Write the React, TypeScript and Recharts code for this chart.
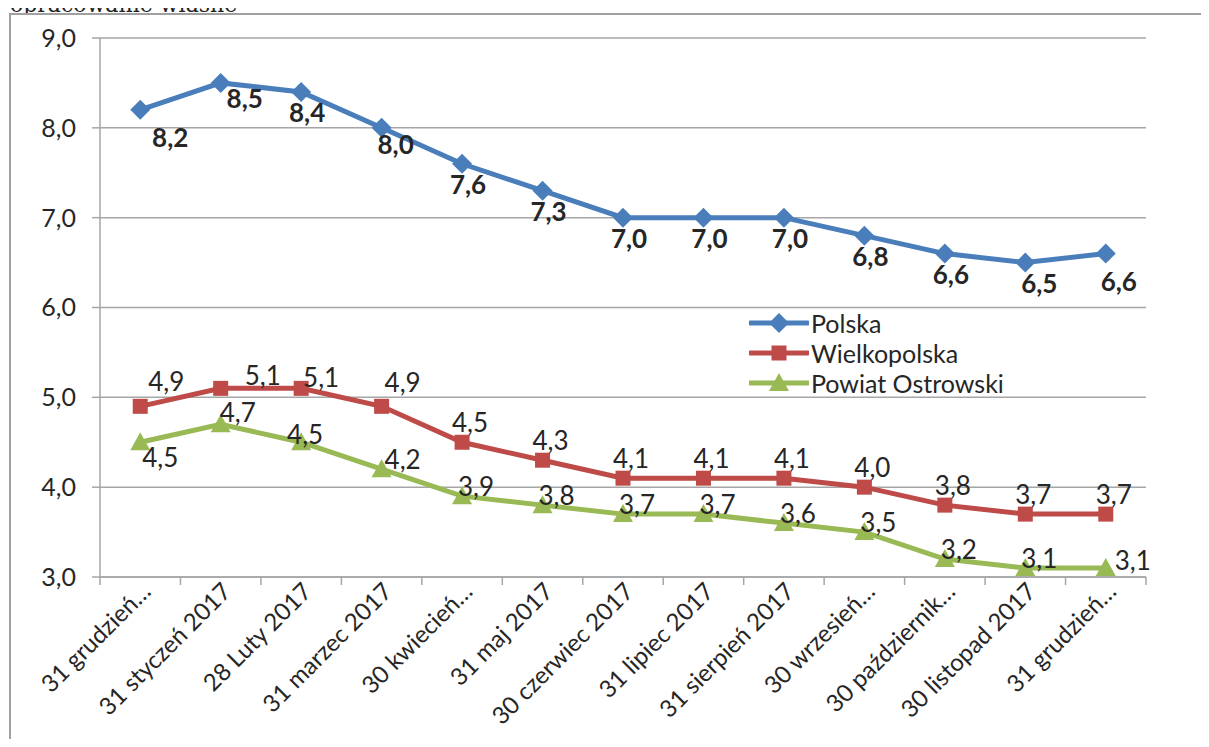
import { LineChart, Line, XAxis, YAxis, CartesianGrid, Legend, LabelList } from 'recharts';

const CATEGORIES = [
  '31 grudzień…',
  '31 styczeń 2017',
  '28 Luty 2017',
  '31 marzec 2017',
  '30 kwiecień…',
  '31 maj 2017',
  '30 czerwiec 2017',
  '31 lipiec 2017',
  '31 sierpień 2017',
  '30 wrzesień…',
  '30 październik…',
  '30 listopad 2017',
  '31 grudzień…',
];

const POLSKA = [8.2, 8.5, 8.4, 8.0, 7.6, 7.3, 7.0, 7.0, 7.0, 6.8, 6.6, 6.5, 6.6];
const WIELKOPOLSKA = [4.9, 5.1, 5.1, 4.9, 4.5, 4.3, 4.1, 4.1, 4.1, 4.0, 3.8, 3.7, 3.7];
const POWIAT = [4.5, 4.7, 4.5, 4.2, 3.9, 3.8, 3.7, 3.7, 3.6, 3.5, 3.2, 3.1, 3.1];

const Y_TICKS = [3, 4, 5, 6, 7, 8, 9];

const FONT = 'Lato, "Open Sans", sans-serif';
const GRID = '#A6A6A6';
const BLUE = '#4A7EBB';
const RED = '#BE4B48';
const GREEN = '#98B954';

const data = CATEGORIES.map((name, i) => ({
  name,
  i,
  polska: POLSKA[i],
  wlkp: WIELKOPOLSKA[i],
  powiat: POWIAT[i],
}));

const CENTER_TICKS = CATEGORIES.map((_, k) => k);

const fmt = (v: number) => v.toFixed(1).replace('.', ',');

type Marker = 'diamond' | 'square' | 'triangle';

function markerShape(kind: Marker, cx: number, cy: number, color: string, key?: string | number) {
  if (kind === 'diamond') {
    return (
      <polygon key={key} points={`${cx},${cy - 10} ${cx + 10},${cy} ${cx},${cy + 10} ${cx - 10},${cy}`} fill={color} />
    );
  }
  if (kind === 'square') {
    return <rect key={key} x={cx - 7.5} y={cy - 7.5} width={15} height={15} fill={color} />;
  }
  return <polygon key={key} points={`${cx},${cy - 10} ${cx + 10},${cy + 8} ${cx - 10},${cy + 8}`} fill={color} />;
}

const makeDot = (kind: Marker, color: string) => (props: any) =>
  markerShape(kind, props.cx, props.cy, color, `dot-${props.index}`);

// label placement roughly as Excel put them
const LABEL_OFFSET: Record<string, { dx: number; dy: number }> = {
  polska: { dx: 6, dy: 20 },
  wlkp: { dx: 8, dy: -20 },
  powiat: { dx: 14, dy: -10 },
};
const LABEL_NUDGE: Record<string, Record<number, { dx: number; dy: number }>> = {
  polska: { 0: { dx: 30, dy: 27 }, 1: { dx: 24, dy: 15 }, 3: { dx: 14, dy: 16 }, 11: { dx: 14, dy: 20 }, 12: { dx: 13, dy: 27 } },
  wlkp: { 0: { dx: 26, dy: -25 }, 1: { dx: 42, dy: -13 }, 2: { dx: 20, dy: -11 }, 3: { dx: 21, dy: -24 } },
  powiat: { 0: { dx: 20, dy: 15 }, 1: { dx: 17, dy: -12 }, 2: { dx: 4, dy: -8 }, 3: { dx: 21, dy: -10 }, 12: { dx: 27, dy: -8 } },
};

const makeLabel = (series: string, bold: boolean) => (props: any) => {
  const { x, y, value, index } = props;
  const o = LABEL_NUDGE[series][index] || LABEL_OFFSET[series];
  return (
    <text
      key={`lbl-${series}-${index}`}
      x={x + o.dx}
      y={y + o.dy}
      textAnchor="middle"
      dominantBaseline="central"
      fontFamily={FONT}
      fontSize={26}
      fontWeight={bold ? 700 : 400}
      fill="#262626"
    >
      {fmt(value)}
    </text>
  );
};

// category label plus Excel-style tick marks between categories
const CategoryTick = (props: any) => {
  const { x, y, payload, index, width, visibleTicksCount } = props;
  const n = visibleTicksCount || CATEGORIES.length;
  const band = (width || 0) / n;
  const tx = x + 12;
  const ty = y + 16;
  return (
    <g>
      <line x1={x - band / 2} y1={y} x2={x - band / 2} y2={y + 8} stroke={GRID} strokeWidth={1.5} />
      {index === n - 1 && (
        <line x1={x + band / 2} y1={y} x2={x + band / 2} y2={y + 8} stroke={GRID} strokeWidth={1.5} />
      )}
      <text
        x={tx}
        y={ty}
        transform={`rotate(-45, ${tx}, ${ty})`}
        textAnchor="end"
        fontFamily={FONT}
        fontSize={24}
        fill="#262626"
      >
        {CATEGORIES[payload.value]}
      </text>
    </g>
  );
};

const LEGEND_ITEMS: { label: string; color: string; kind: Marker }[] = [
  { label: 'Polska', color: BLUE, kind: 'diamond' },
  { label: 'Wielkopolska', color: RED, kind: 'square' },
  { label: 'Powiat Ostrowski', color: GREEN, kind: 'triangle' },
];

const LegendContent = () => (
  <div style={{ fontFamily: FONT, fontSize: 25, color: '#262626', lineHeight: '30px' }}>
    {LEGEND_ITEMS.map((it) => (
      <div key={it.label} style={{ display: 'flex', alignItems: 'center', height: 30 }}>
        <svg width={60} height={24} style={{ marginRight: 2 }}>
          <line x1={1} y1={12} x2={59} y2={12} stroke={it.color} strokeWidth={5} strokeLinecap="round" />
          {markerShape(it.kind, 30, 12, it.color)}
        </svg>
        <span>{it.label}</span>
      </div>
    ))}
  </div>
);

export default function App() {
  return (
    <div style={{ position: 'relative', width: 1209, height: 747, margin: -8, background: '#fff', overflow: 'hidden' }}>
      <svg width={1209} height={747} style={{ position: 'absolute', left: 0, top: 0 }}>
        <text x={10} y={12} fontFamily='"DejaVu Serif", serif' fontSize={22} fill="#222">
          opracowanie własne
        </text>
        <rect x={9} y={14} width={1200} height={733} fill="#fff" />
        <line x1={9} y1={14} x2={1209} y2={14} stroke="#A0A0A0" strokeWidth={2} />
        <line x1={10} y1={14} x2={10} y2={747} stroke="#A0A0A0" strokeWidth={2} />
      </svg>
      <div style={{ position: 'absolute', left: 0, top: 0 }}>
        <LineChart width={1209} height={747} data={data} margin={{ top: 38, right: 63, bottom: 0, left: 0 }}>
          <CartesianGrid vertical={false} stroke={GRID} strokeWidth={1.5} />
          <XAxis
            type="number"
            dataKey="i"
            domain={[-0.5, CATEGORIES.length - 0.5]}
            ticks={CENTER_TICKS}
            interval={0}
            tickLine={false}
            tickSize={0}
            tickMargin={0}
            height={170}
            stroke={GRID}
            strokeWidth={1.5}
            tick={<CategoryTick />}
            allowDataOverflow
          />
          <YAxis
            domain={[3, 9]}
            ticks={Y_TICKS}
            tickFormatter={fmt}
            width={100}
            tickSize={8}
            tickMargin={16}
            stroke={GRID}
            strokeWidth={1.5}
            tick={{ fill: '#262626', fontSize: 25, fontFamily: FONT }}
          />
          <Legend
            layout="vertical"
            align="center"
            verticalAlign="middle"
            content={<LegendContent />}
            wrapperStyle={{ left: 749, top: 308, width: 300 }}
          />
          <Line
            dataKey="polska"
            name="Polska"
            stroke={BLUE}
            strokeWidth={5}
            dot={makeDot('diamond', BLUE)}
            isAnimationActive={false}
          >
            <LabelList dataKey="polska" content={makeLabel('polska', true)} />
          </Line>
          <Line
            dataKey="wlkp"
            name="Wielkopolska"
            stroke={RED}
            strokeWidth={5}
            dot={makeDot('square', RED)}
            isAnimationActive={false}
          >
            <LabelList dataKey="wlkp" content={makeLabel('wlkp', false)} />
          </Line>
          <Line
            dataKey="powiat"
            name="Powiat Ostrowski"
            stroke={GREEN}
            strokeWidth={5}
            dot={makeDot('triangle', GREEN)}
            isAnimationActive={false}
          >
            <LabelList dataKey="powiat" content={makeLabel('powiat', false)} />
          </Line>
        </LineChart>
      </div>
    </div>
  );
}
